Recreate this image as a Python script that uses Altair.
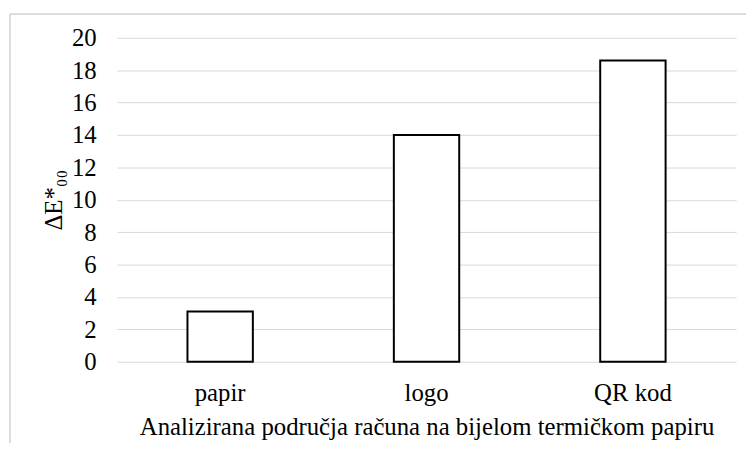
import altair as alt
import pandas as pd

categories = ["papir", "logo", "QR kod"]
values = [3.1, 14.0, 18.6]
y_ticks = [0, 2, 4, 6, 8, 10, 12, 14, 16, 18, 20]

df = pd.DataFrame({"kategorija": categories, "dE": values})

FONT = "Liberation Serif"
FS = 25

bars = alt.Chart(df).mark_bar(
    fill="white", stroke="black", strokeWidth=2, width=66
).encode(
    x=alt.X("kategorija:N", sort=categories,
            scale=alt.Scale(paddingInner=0.0, paddingOuter=0.0),
            axis=alt.Axis(title="Analizirana područja računa na bijelom termičkom papiru",
                          labelAngle=0, domain=False, ticks=False, grid=False,
                          labelFont=FONT, titleFont=FONT,
                          labelFontSize=FS, titleFontSize=FS,
                          labelPadding=19, titlePadding=9)),
    y=alt.Y("dE:Q", scale=alt.Scale(domain=[0, 20], nice=False),
            axis=alt.Axis(title="ΔE*₀₀", values=y_ticks, domain=False, ticks=False,
                          grid=True, gridColor="#d9d9d9", gridWidth=1,
                          labelFont=FONT, titleFont=FONT,
                          labelFontSize=FS, titleFontSize=FS,
                          labelPadding=21, titlePadding=5)),
)

border = alt.Chart(df).mark_rect(
    fill=None, stroke="#d9d9d9", strokeWidth=1, clip=False
).encode(
    x=alt.value(-108), x2=alt.value(640), y=alt.value(-24), y2=alt.value(420)
)

chart = alt.layer(border, bars).properties(
    width=625, height=327,
    autosize=alt.AutoSizeParams(type="none"),
    padding={"left": 110, "top": 28, "right": 10, "bottom": 80},
).configure_view(stroke=None).configure_axis(
    labelColor="black", titleColor="black", titleFontWeight="normal",
)

chart.save("out.html", embed_options={"renderer": "svg", "actions": False})
